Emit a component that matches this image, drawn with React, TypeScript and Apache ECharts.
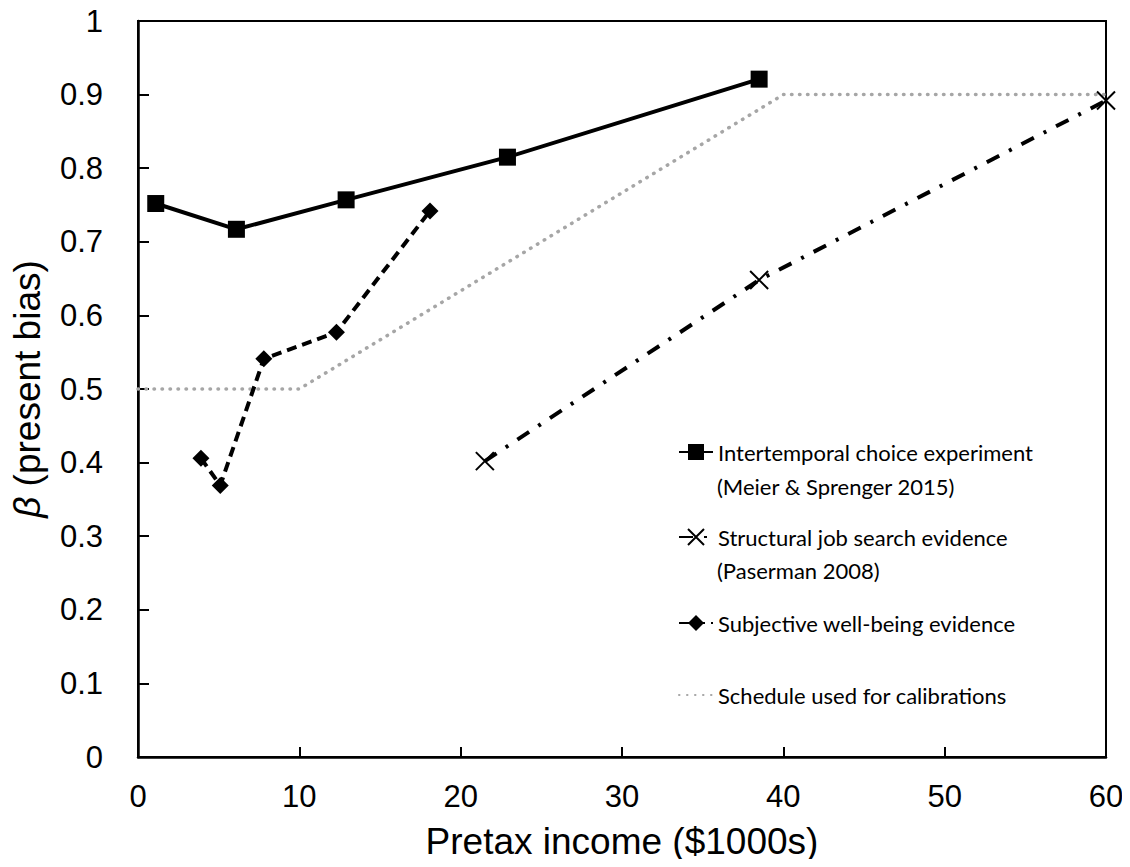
import React, { useEffect, useRef } from "react";
import * as echarts from "echarts";

const meierX = [1.1, 6.1, 12.9, 22.9, 38.5];
const meierY = [0.752, 0.717, 0.757, 0.815, 0.921];
const paserX = [21.5, 38.5, 60];
const paserY = [0.402, 0.648, 0.892];
const swbX = [3.9, 5.1, 7.8, 12.3, 18.1];
const swbY = [0.406, 0.369, 0.541, 0.577, 0.742];
const schedX = [0, 10, 40, 60];
const schedY = [0.5, 0.5, 0.9, 0.9];

const names = [
  "Intertemporal choice experiment",
  "Structural job search evidence",
  "Subjective well-being evidence",
  "Schedule used for calibrations",
];
const secondLines = ["(Meier & Sprenger 2015)", "(Paserman 2008)"];

const zip = (xs: number[], ys: number[]) => xs.map((x, i) => [x, ys[i]]);

export default function App() {
  const ref = useRef<HTMLDivElement>(null);
  useEffect(() => {
    if (!ref.current) return;
    const chart = echarts.init(ref.current, undefined, { renderer: "svg" });
    const legendFont = { fontFamily: "Lato", fontSize: 22, color: "#000", lineHeight: 24 };
    const legendTops = [440, 525, 611, 683];
    const mkLegend = (i: number) => ({
      data: i === 3 ? [{ name: names[i], itemStyle: { opacity: 0 } }] : [names[i]],
      left: 678,
      top: legendTops[i],
      padding: 0,
      itemWidth: 34,
      itemHeight: 20,
      itemGap: 0,
      selectedMode: false,
      textStyle: legendFont,
    });
    chart.setOption({
      animation: false,
      backgroundColor: "#fff",
      grid: {
        left: 138,
        right: 24,
        top: 21,
        bottom: 110,
        show: true,
        borderColor: "#000",
        borderWidth: 2,
      },
      legend: [mkLegend(0), mkLegend(1), mkLegend(2), mkLegend(3)],
      graphic: [
        {
          type: "text",
          left: 717,
          top: 475,
          style: { text: secondLines[0], font: "22px Lato", fill: "#000" },
        },
        {
          type: "text",
          left: 717,
          top: 559,
          style: { text: secondLines[1], font: "22px Lato", fill: "#000" },
        },
      ],
      xAxis: {
        type: "value",
        min: 0,
        max: 60,
        interval: 10,
        name: "Pretax income ($1000s)",
        nameLocation: "middle",
        nameGap: 66,
        nameTextStyle: { fontFamily: "Liberation Sans", fontSize: 37, color: "#000" },
        axisLine: { lineStyle: { color: "#000", width: 2.5 } },
        axisTick: { show: true, inside: true, length: 10, lineStyle: { color: "#000", width: 2 } },
        axisLabel: { fontFamily: "Liberation Sans", fontSize: 31, color: "#000", margin: 24 },
        splitLine: { show: false },
      },
      yAxis: {
        type: "value",
        min: 0,
        max: 1,
        interval: 0.1,
        name: "{b|β} (present bias)",
        nameLocation: "middle",
        nameGap: 92,
        nameTextStyle: {
          fontFamily: "Liberation Sans",
          fontSize: 37,
          color: "#000",
          rich: { b: { fontStyle: "italic", fontFamily: "Liberation Sans", fontSize: 37, color: "#000" } },
        },
        axisLine: { lineStyle: { color: "#000", width: 2.5 } },
        axisTick: { show: true, inside: true, length: 11, lineStyle: { color: "#000", width: 2 } },
        axisLabel: {
          fontFamily: "Liberation Sans",
          fontSize: 31,
          color: "#000",
          margin: 35,
          formatter: (v: number) => String(Math.round(v * 10) / 10),
        },
        splitLine: { show: false },
      },
      series: [
        {
          name: names[3],
          type: "line",
          data: zip(schedX, schedY),
          showSymbol: false,
          symbol: "none",
          lineStyle: { color: "#a6a6a6", width: 3.5, type: [0.5, 7.5], cap: "round" },
          itemStyle: { color: "#a6a6a6" },
          z: 1,
        },
        {
          name: names[0],
          type: "line",
          data: zip(meierX, meierY),
          symbol: "rect",
          symbolSize: 17,
          lineStyle: { color: "#000", width: 4 },
          itemStyle: { color: "#000" },
          z: 3,
        },
        {
          name: names[1],
          type: "line",
          data: zip(paserX, paserY),
          symbol: "path://M0,0L10,10M10,0L0,10",
          symbolSize: 18,
          lineStyle: { color: "#000", width: 4, type: [14, 11, 3, 11] },
          itemStyle: { color: "#000", borderColor: "#000", borderWidth: 2 },
          z: 3,
        },
        {
          name: names[2],
          type: "line",
          data: zip(swbX, swbY),
          symbol: "diamond",
          symbolSize: 17,
          lineStyle: { color: "#000", width: 4, type: [10, 6] },
          itemStyle: { color: "#000" },
          z: 3,
        },
      ],
    });
    return () => chart.dispose();
  }, []);
  return <div ref={ref} style={{ width: 1130, height: 867, margin: -8 }} />;
}
